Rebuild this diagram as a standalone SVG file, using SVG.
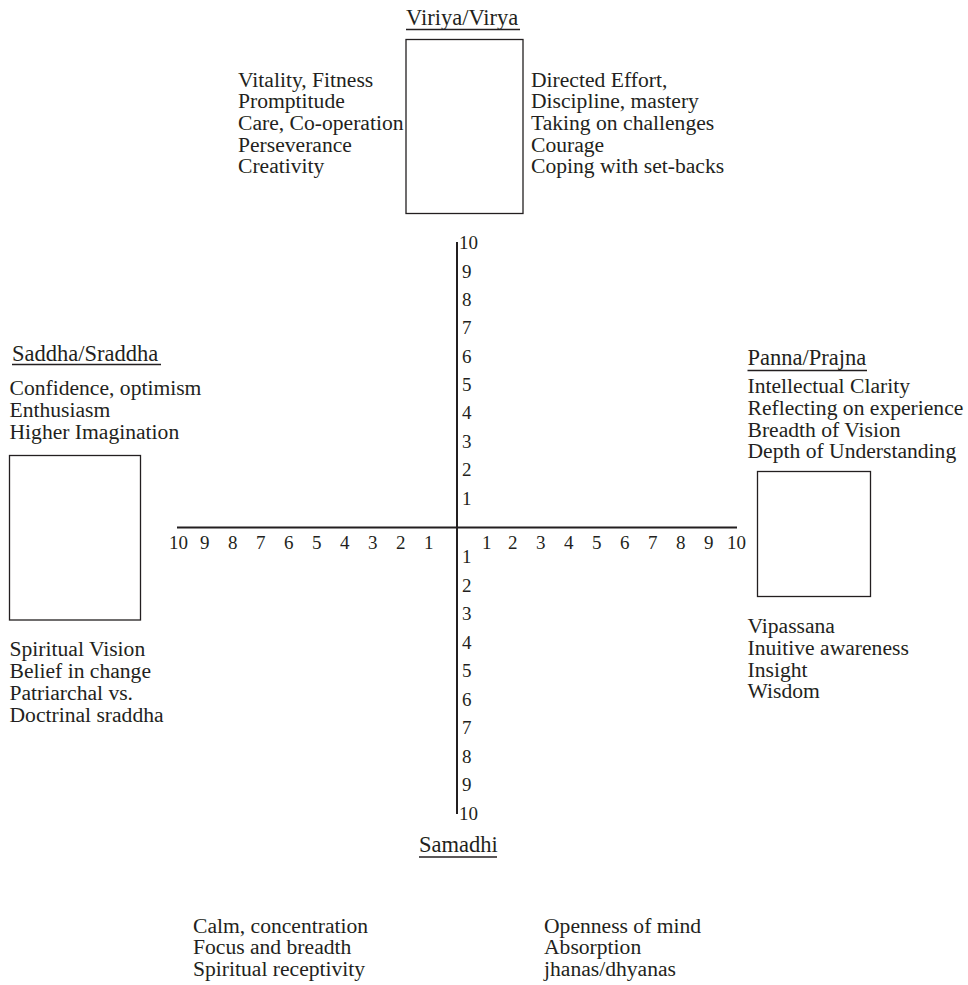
<svg xmlns="http://www.w3.org/2000/svg" width="968" height="985" viewBox="0 0 968 985" font-family="'Liberation Serif', 'DejaVu Serif', serif">
<style>
text{font-family:"Liberation Serif","DejaVu Serif",serif;fill:#231f20}
.t{font-size:21.6px}
.h{font-size:22.5px}
.n{font-size:19px}
.box{fill:#fff;stroke:#231f20;stroke-width:1.3}
.ul{stroke:#231f20;stroke-width:1.6}
.ax{stroke:#231f20;stroke-width:2;fill:none}
</style>
<rect width="968" height="985" fill="#fff"/>
<g id="connectors">
<line class="ax" x1="457" y1="242" x2="457" y2="814"/>
<line class="ax" x1="177" y1="527.5" x2="737" y2="527.5"/>
</g>
<g id="scale-labels">
<text class="n" x="459" y="249">10</text>
<text class="n" x="462" y="277.5">9</text>
<text class="n" x="462" y="306">8</text>
<text class="n" x="462" y="334">7</text>
<text class="n" x="462" y="362.5">6</text>
<text class="n" x="462" y="391">5</text>
<text class="n" x="462" y="419">4</text>
<text class="n" x="462" y="447.5">3</text>
<text class="n" x="462" y="476">2</text>
<text class="n" x="462" y="505">1</text>
<text class="n" x="462" y="563">1</text>
<text class="n" x="462" y="591.5">2</text>
<text class="n" x="462" y="620">3</text>
<text class="n" x="462" y="648.5">4</text>
<text class="n" x="462" y="677">5</text>
<text class="n" x="462" y="705.5">6</text>
<text class="n" x="462" y="734">7</text>
<text class="n" x="462" y="762.5">8</text>
<text class="n" x="462" y="791">9</text>
<text class="n" x="459" y="820">10</text>
<text class="n" x="169" y="549">10</text>
<text class="n" x="200" y="549">9</text>
<text class="n" x="228" y="549">8</text>
<text class="n" x="256" y="549">7</text>
<text class="n" x="284" y="549">6</text>
<text class="n" x="312" y="549">5</text>
<text class="n" x="340" y="549">4</text>
<text class="n" x="368" y="549">3</text>
<text class="n" x="396" y="549">2</text>
<text class="n" x="424" y="549">1</text>
<text class="n" x="482" y="549">1</text>
<text class="n" x="508" y="549">2</text>
<text class="n" x="536" y="549">3</text>
<text class="n" x="564" y="549">4</text>
<text class="n" x="592" y="549">5</text>
<text class="n" x="620" y="549">6</text>
<text class="n" x="648" y="549">7</text>
<text class="n" x="676" y="549">8</text>
<text class="n" x="704" y="549">9</text>
<text class="n" x="727" y="549">10</text>
</g>
<g id="viriya">
<text class="h" x="406" y="25">Viriya/Virya</text>
<line class="ul" x1="406" y1="29.5" x2="520" y2="29.5"/>
<rect class="box" x="406" y="39.5" width="117" height="174"/>
<text class="t" x="238" y="86.7">Vitality, Fitness</text>
<text class="t" x="238" y="108.3">Promptitude</text>
<text class="t" x="238" y="130">Care, Co-operation</text>
<text class="t" x="238" y="151.7">Perseverance</text>
<text class="t" x="238" y="173.3">Creativity</text>
<text class="t" x="531" y="86.7">Directed Effort,</text>
<text class="t" x="531" y="108.3">Discipline, mastery</text>
<text class="t" x="531" y="130">Taking on challenges</text>
<text class="t" x="531" y="151.7">Courage</text>
<text class="t" x="531" y="173.3">Coping with set-backs</text>
</g>
<g id="saddha">
<text class="h" x="12" y="360.5">Saddha/Sraddha</text>
<line class="ul" x1="12" y1="364.5" x2="161" y2="364.5"/>
<text class="t" x="9.5" y="395">Confidence, optimism</text>
<text class="t" x="9.5" y="417">Enthusiasm</text>
<text class="t" x="9.5" y="439">Higher Imagination</text>
<rect class="box" x="9.5" y="455.5" width="131" height="164.5"/>
<text class="t" x="9.5" y="655.7">Spiritual Vision</text>
<text class="t" x="9.5" y="677.7">Belief in change</text>
<text class="t" x="9.5" y="699.7">Patriarchal vs.</text>
<text class="t" x="9.5" y="721.7">Doctrinal sraddha</text>
</g>
<g id="panna">
<text class="h" x="747.5" y="365">Panna/Prajna</text>
<line class="ul" x1="747.5" y1="370.5" x2="867" y2="370.5"/>
<text class="t" x="747.5" y="393.3">Intellectual Clarity</text>
<text class="t" x="747.5" y="415">Reflecting on experience</text>
<text class="t" x="747.5" y="436.7">Breadth of Vision</text>
<text class="t" x="747.5" y="458.3">Depth of Understanding</text>
<rect class="box" x="757.5" y="471.5" width="113" height="125"/>
<text class="t" x="747.5" y="633.3">Vipassana</text>
<text class="t" x="747.5" y="655">Inuitive awareness</text>
<text class="t" x="747.5" y="676.7">Insight</text>
<text class="t" x="747.5" y="698.3">Wisdom</text>
</g>
<g id="samadhi">
<text class="h" x="419" y="852">Samadhi</text>
<line class="ul" x1="419" y1="857" x2="497" y2="857"/>
<text class="t" x="193" y="932.5">Calm, concentration</text>
<text class="t" x="193" y="954.3">Focus and breadth</text>
<text class="t" x="193" y="976">Spiritual receptivity</text>
<text class="t" x="544" y="932.5">Openness of mind</text>
<text class="t" x="544" y="954.3">Absorption</text>
<text class="t" x="544" y="976">jhanas/dhyanas</text>
</g>
</svg>
